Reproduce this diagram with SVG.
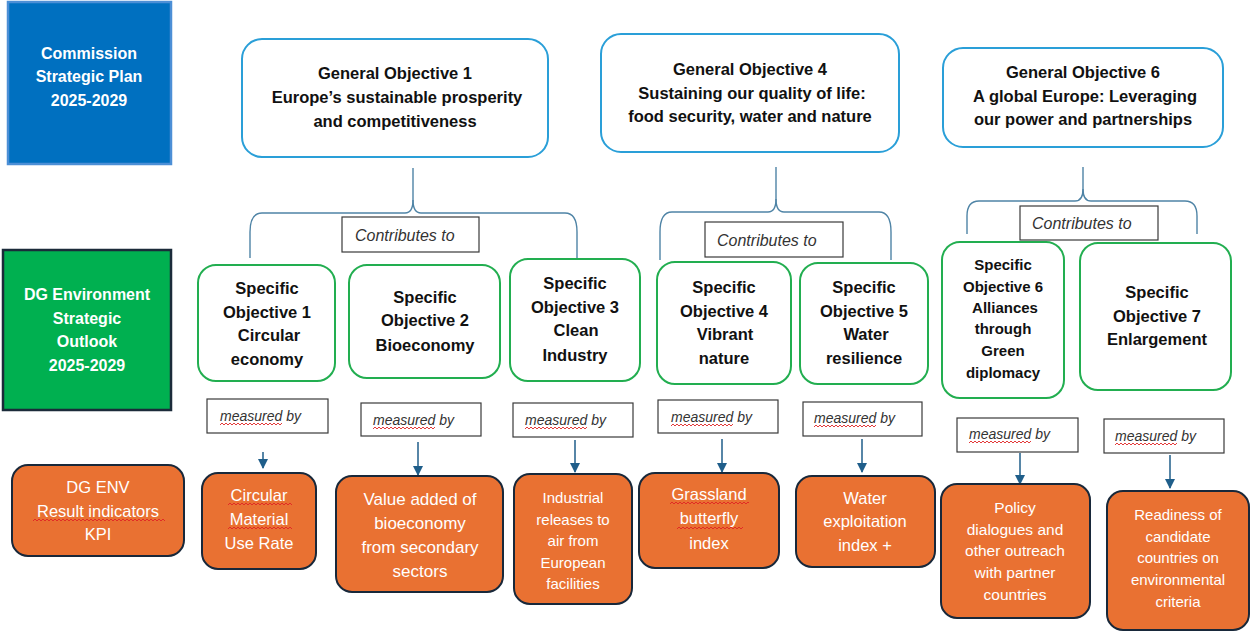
<svg xmlns="http://www.w3.org/2000/svg" width="1250" height="631" viewBox="0 0 1250 631">
<style>
  text { font-family: "Liberation Sans", Arial, sans-serif; }
  .hdr { fill: #ffffff; font-weight: bold; font-size: 16px; text-anchor: middle; }
  .go rect { fill: #ffffff; stroke: #2A9FD8; stroke-width: 2; }
  .go text { fill: #111111; font-weight: bold; font-size: 16.5px; text-anchor: middle; }
  .so rect { fill: #ffffff; stroke: #22AE50; stroke-width: 2; }
  .so text { fill: #111111; font-weight: bold; font-size: 16.5px; text-anchor: middle; }
  .lbl rect { fill: #ffffff; stroke: #3a3a3a; stroke-width: 1.2; }
  .ct { fill: #333333; font-style: italic; font-size: 16px; }
  .mb { fill: #333333; font-style: italic; font-size: 14px; }
  .kpi rect { fill: #E97132; stroke: #18283A; stroke-width: 2; }
  .kpi text { fill: #ffffff; font-size: 16.5px; text-anchor: middle; }
  .brace { fill: none; stroke: #4F84A6; stroke-width: 1.4; }
  .arr { fill: none; stroke: #1F5E8A; stroke-width: 1.5; marker-end: url(#ah); }
  .sq { fill: url(#sqp); stroke: none; }
</style>
<defs>
  <marker id="ah" markerUnits="userSpaceOnUse" markerWidth="10" markerHeight="10" refX="9" refY="5" orient="auto" viewBox="0 0 10 10">
    <path d="M0,0 L10,5 L0,10 z" fill="#1F5E8A"/>
  </marker>
  <pattern id="sqp" x="0" y="0" width="4" height="4" patternUnits="userSpaceOnUse">
    <path d="M0,3 L2,1 L4,3" fill="none" stroke="#E02424" stroke-width="0.9"/>
  </pattern>
</defs>

<g id="commission-plan">
  <rect x="8" y="2" width="163" height="162" fill="#0070C0" stroke="#4C8FD6" stroke-width="2.5"/>
  <text class="hdr"><tspan x="89" y="58.5">Commission</tspan><tspan x="89" y="82">Strategic Plan</tspan><tspan x="89" y="105.5">2025-2029</tspan></text>
</g>

<g id="dg-env-outlook">
  <rect x="3" y="250" width="168" height="160" fill="#00B050" stroke="#1B2B3A" stroke-width="2.5"/>
  <text class="hdr"><tspan x="87" y="299.5">DG Environment</tspan><tspan x="87" y="323.5">Strategic</tspan><tspan x="87" y="346.5">Outlook</tspan><tspan x="87" y="370.5">2025-2029</tspan></text>
</g>

<g id="go1" class="go">
  <rect x="242" y="39" width="306" height="118" rx="20"/>
  <text><tspan x="395" y="78.5">General Objective 1</tspan><tspan x="397" y="102.5">Europe’s sustainable prosperity</tspan><tspan x="395" y="126.5">and competitiveness</tspan></text>
</g>
<g id="go4" class="go">
  <rect x="601" y="34" width="298" height="118" rx="20"/>
  <text><tspan x="750" y="74.5">General Objective 4</tspan><tspan x="752" y="98.5">Sustaining our quality of life:</tspan><tspan x="750" y="121.5">food security, water and nature</tspan></text>
</g>
<g id="go6" class="go">
  <rect x="943" y="48" width="280" height="99" rx="20"/>
  <text><tspan x="1083" y="77.5">General Objective 6</tspan><tspan x="1085" y="101.5">A global Europe: Leveraging</tspan><tspan x="1083" y="124.5">our power and partnerships</tspan></text>
</g>

<g id="connectors">
  <path class="brace" d="M413,168 L413,200 Q413,213 405,213 L262,213 Q250,213 250,232 L250,258"/>
  <path class="brace" d="M413,200 Q413,213 421,213 L565,213 Q577,213 577,232 L577,258"/>
  <path class="brace" d="M776,167 L776,199 Q776,212 768,212 L672,212 Q660,212 660,232 L660,260"/>
  <path class="brace" d="M776,199 Q776,212 784,212 L879,212 Q891,212 891,232 L891,260"/>
  <path class="brace" d="M1083,167 L1083,189 Q1083,201 1075,201 L979,201 Q967,201 967,216 L967,234"/>
  <path class="brace" d="M1083,189 Q1083,201 1091,201 L1185,201 Q1197,201 1197,216 L1197,234"/>
  <line class="arr" x1="263" y1="452" x2="263" y2="468"/>
  <line class="arr" x1="418" y1="442" x2="418" y2="475"/>
  <line class="arr" x1="575" y1="440" x2="575" y2="472"/>
  <line class="arr" x1="722" y1="439" x2="722" y2="472"/>
  <line class="arr" x1="862" y1="439" x2="862" y2="472"/>
  <line class="arr" x1="1020" y1="453" x2="1020" y2="484"/>
  <line class="arr" x1="1170" y1="455" x2="1170" y2="488"/>
</g>

<g id="contrib1" class="lbl"><rect x="342" y="217" width="137" height="35"/><text class="ct" x="355" y="240.5">Contributes to</text></g>
<g id="contrib2" class="lbl"><rect x="705" y="222" width="138" height="35"/><text class="ct" x="717" y="245.5">Contributes to</text></g>
<g id="contrib3" class="lbl"><rect x="1020" y="206" width="138" height="34"/><text class="ct" x="1032" y="228.5">Contributes to</text></g>

<g id="so1" class="so">
  <rect x="198" y="265" width="137" height="116" rx="18"/>
  <text><tspan x="267" y="293.5">Specific</tspan><tspan x="267" y="317.5">Objective 1</tspan><tspan x="269" y="340.5">Circular</tspan><tspan x="267" y="364.5">economy</tspan></text>
</g>
<g id="so2" class="so">
  <rect x="349" y="265" width="151" height="113" rx="18"/>
  <text><tspan x="425" y="302.5">Specific</tspan><tspan x="425" y="325.5">Objective 2</tspan><tspan x="425" y="350.5">Bioeconomy</tspan></text>
</g>
<g id="so3" class="so">
  <rect x="510" y="259" width="130" height="122" rx="18"/>
  <text><tspan x="575" y="288.5">Specific</tspan><tspan x="575" y="312.5">Objective 3</tspan><tspan x="576" y="335.5">Clean</tspan><tspan x="575" y="360.5">Industry</tspan></text>
</g>
<g id="so4" class="so">
  <rect x="657" y="262" width="134" height="122" rx="18"/>
  <text><tspan x="724" y="292.5">Specific</tspan><tspan x="724" y="316.5">Objective 4</tspan><tspan x="725" y="339.5">Vibrant</tspan><tspan x="724" y="363.5">nature</tspan></text>
</g>
<g id="so5" class="so">
  <rect x="800" y="263" width="128" height="121" rx="18"/>
  <text><tspan x="864" y="292.5">Specific</tspan><tspan x="864" y="316.5">Objective 5</tspan><tspan x="866" y="339.5">Water</tspan><tspan x="864" y="363.5">resilience</tspan></text>
</g>
<g id="so6" class="so">
  <rect x="942" y="242" width="122" height="156" rx="18"/>
  <text style="font-size:15px"><tspan x="1003" y="270">Specific</tspan><tspan x="1003" y="292">Objective 6</tspan><tspan x="1005" y="313">Alliances</tspan><tspan x="1003" y="334">through</tspan><tspan x="1003" y="356">Green</tspan><tspan x="1003" y="378">diplomacy</tspan></text>
</g>
<g id="so7" class="so">
  <rect x="1080" y="243" width="151" height="147" rx="18"/>
  <text><tspan x="1157" y="297.5">Specific</tspan><tspan x="1157" y="321.5">Objective 7</tspan><tspan x="1157" y="344.5">Enlargement</tspan></text>
</g>

<g id="mb1" class="lbl"><rect x="207" y="399" width="121" height="34"/><text class="mb" x="220" y="420.5">measured by</text><path class="sq" d="M0,0H62V4H0Z" transform="translate(220,422)"/></g>
<g id="mb2" class="lbl"><rect x="361" y="403" width="120" height="33"/><text class="mb" x="373" y="424.5">measured by</text><path class="sq" d="M0,0H62V4H0Z" transform="translate(373,426)"/></g>
<g id="mb3" class="lbl"><rect x="513" y="403" width="120" height="34"/><text class="mb" x="525" y="424.5">measured by</text><path class="sq" d="M0,0H62V4H0Z" transform="translate(525,426)"/></g>
<g id="mb4" class="lbl"><rect x="658" y="400" width="120" height="33"/><text class="mb" x="671" y="421.5">measured by</text><path class="sq" d="M0,0H62V4H0Z" transform="translate(671,423)"/></g>
<g id="mb5" class="lbl"><rect x="803" y="402" width="119" height="34"/><text class="mb" x="814" y="422.5">measured by</text><path class="sq" d="M0,0H62V4H0Z" transform="translate(814,424)"/></g>
<g id="mb6" class="lbl"><rect x="957" y="418" width="121" height="34"/><text class="mb" x="969" y="438.5">measured by</text><path class="sq" d="M0,0H62V4H0Z" transform="translate(969,440)"/></g>
<g id="mb7" class="lbl"><rect x="1104" y="419" width="120" height="34"/><text class="mb" x="1115" y="440.5">measured by</text><path class="sq" d="M0,0H62V4H0Z" transform="translate(1115,442)"/></g>

<g id="kpi-header" class="kpi">
  <rect x="12" y="465" width="172" height="91" rx="16"/>
  <text><tspan x="98" y="492.5">DG ENV</tspan><tspan x="98" y="516.5">Result indicators</tspan><tspan x="98" y="539.5">KPI</tspan></text>
  <path class="sq" d="M0,0H132V4H0Z" transform="translate(33,518)"/>
</g>
<g id="kpi1" class="kpi">
  <rect x="202" y="473" width="114" height="96" rx="16"/>
  <text><tspan x="259" y="500.5">Circular</tspan><tspan x="259" y="524.5">Material</tspan><tspan x="259" y="548.5">Use Rate</tspan></text>
  <path class="sq" d="M0,0H64V4H0Z" transform="translate(228,502)"/>
  <path class="sq" d="M0,0H64V4H0Z" transform="translate(228,526)"/>
</g>
<g id="kpi2" class="kpi">
  <rect x="336" y="476" width="167" height="116" rx="16"/>
  <text style="font-size:17px"><tspan x="420" y="504.5">Value added of</tspan><tspan x="420" y="528.5">bioeconomy</tspan><tspan x="420" y="552.5">from secondary</tspan><tspan x="420" y="576.5">sectors</tspan></text>
</g>
<g id="kpi3" class="kpi">
  <rect x="514" y="474" width="118" height="130" rx="16"/>
  <text style="font-size:15px"><tspan x="573" y="503">Industrial</tspan><tspan x="573" y="525">releases to</tspan><tspan x="573" y="546">air from</tspan><tspan x="573" y="568">European</tspan><tspan x="573" y="589">facilities</tspan></text>
</g>
<g id="kpi4" class="kpi">
  <rect x="639" y="473" width="140" height="95" rx="16"/>
  <text><tspan x="709" y="499.5">Grassland</tspan><tspan x="709" y="523.5">butterfly</tspan><tspan x="709" y="548.5">index</tspan></text>
  <path class="sq" d="M0,0H79V4H0Z" transform="translate(670,501)"/>
  <path class="sq" d="M0,0H66V4H0Z" transform="translate(677,526)"/>
</g>
<g id="kpi5" class="kpi">
  <rect x="796" y="476" width="139" height="91" rx="16"/>
  <text><tspan x="865" y="503.5">Water</tspan><tspan x="865" y="526.5">exploitation</tspan><tspan x="865" y="550.5">index +</tspan></text>
</g>
<g id="kpi6" class="kpi">
  <rect x="941" y="484" width="149" height="134" rx="16"/>
  <text style="font-size:15.5px"><tspan x="1015" y="513">Policy</tspan><tspan x="1015" y="534.5">dialogues and</tspan><tspan x="1015" y="556">other outreach</tspan><tspan x="1015" y="578">with partner</tspan><tspan x="1015" y="600">countries</tspan></text>
</g>
<g id="kpi7" class="kpi">
  <rect x="1107" y="491" width="142" height="139" rx="16"/>
  <text style="font-size:15px"><tspan x="1178" y="520">Readiness of</tspan><tspan x="1178" y="542">candidate</tspan><tspan x="1178" y="563">countries on</tspan><tspan x="1178" y="585">environmental</tspan><tspan x="1178" y="607">criteria</tspan></text>
</g>
</svg>
